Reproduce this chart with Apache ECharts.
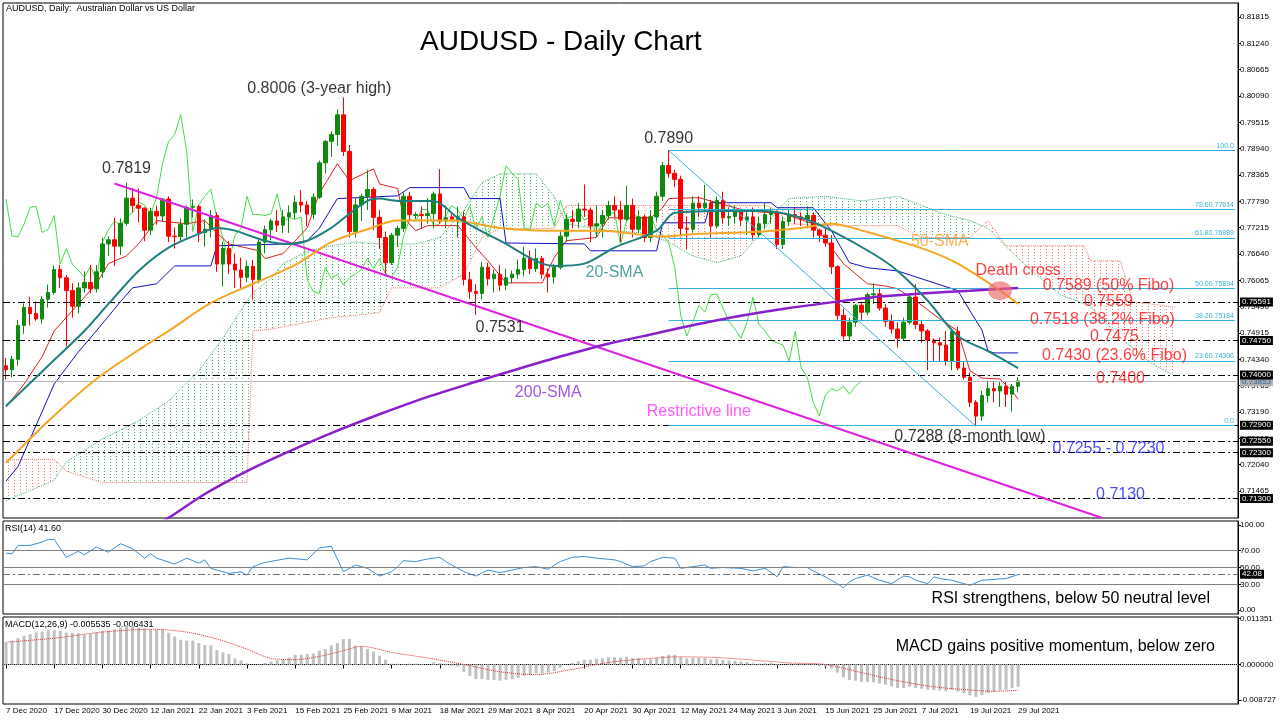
<!DOCTYPE html>
<html>
<head>
<meta charset="utf-8">
<title>AUDUSD - Daily Chart</title>
<script src="https://cdn.jsdelivr.net/npm/echarts@6.0.0/dist/echarts.min.js"></script>
<style>html,body{margin:0;padding:0;background:#fff;}#chart{width:1280px;height:720px;}</style>
</head>
<body>
<div id="chart"></div>
<script>
// ---------- categories ----------
const firstDay = '2020-12-07';
const lastDay = '2021-07-29';
const skipDays = ['2020-12-25', '2021-01-01'];
const extraDays = ['2021-03-14', '2021-03-21'];
const futureSlots = 36;
const monthNames = ['Jan','Feb','Mar','Apr','May','Jun','Jul','Aug','Sep','Oct','Nov','Dec'];

// ---------- price (open, high, low, close) ----------
const ohlc = [
[0.7420,0.7437,0.7390,0.7411],[0.7411,0.7442,0.7395,0.7434],[0.7434,0.7520,0.7420,0.7508],[0.7508,0.7556,0.7490,0.7547],
[0.7547,0.7571,0.7508,0.7534],[0.7534,0.7560,0.7518,0.7522],[0.7522,0.7572,0.7512,0.7565],[0.7565,0.7597,0.7547,0.7580],
[0.7580,0.7639,0.7575,0.7630],[0.7630,0.7640,0.7590,0.7612],[0.7612,0.7618,0.7462,0.7584],[0.7584,0.7600,0.7525,0.7550],
[0.7550,0.7602,0.7534,0.7590],[0.7590,0.7626,0.7580,0.7602],[0.7602,0.7640,0.7578,0.7588],[0.7588,0.7640,0.7580,0.7625],
[0.7625,0.7700,0.7612,0.7686],[0.7686,0.7702,0.7660,0.7695],[0.7695,0.7743,0.7638,0.7681],[0.7681,0.7742,0.7662,0.7731],
[0.7731,0.7820,0.7725,0.7786],[0.7786,0.7808,0.7755,0.7770],[0.7770,0.7807,0.7733,0.7764],[0.7764,0.7766,0.7692,0.7716],
[0.7716,0.7765,0.7705,0.7757],[0.7757,0.7770,0.7728,0.7747],[0.7747,0.7786,0.7735,0.7784],[0.7784,0.7790,0.7690,0.7703],
[0.7703,0.7722,0.7676,0.7702],[0.7702,0.7742,0.7690,0.7729],[0.7729,0.7770,0.7700,0.7766],[0.7766,0.7783,0.7744,0.7768],
[0.7768,0.7771,0.7690,0.7711],[0.7711,0.7740,0.7680,0.7718],[0.7718,0.7760,0.7700,0.7748],[0.7748,0.7755,0.7625,0.7642],
[0.7642,0.7690,0.7593,0.7676],[0.7676,0.7692,0.7620,0.7642],[0.7642,0.7665,0.7590,0.7629],[0.7629,0.7656,0.7590,0.7613],
[0.7613,0.7650,0.7602,0.7637],[0.7637,0.7651,0.7564,0.7608],[0.7608,0.7696,0.7600,0.7690],[0.7690,0.7726,0.7665,0.7717],
[0.7717,0.7741,0.7694,0.7736],[0.7736,0.7760,0.7712,0.7727],[0.7727,0.7760,0.7710,0.7745],[0.7745,0.7770,0.7710,0.7754],
[0.7754,0.7792,0.7740,0.7777],[0.7777,0.7804,0.7755,0.7771],[0.7771,0.7780,0.7725,0.7751],[0.7751,0.7796,0.7740,0.7788],
[0.7788,0.7868,0.7784,0.7863],[0.7863,0.7913,0.7840,0.7910],[0.7910,0.7932,0.7876,0.7925],[0.7925,0.7980,0.7900,0.7968],
[0.7968,0.8006,0.7878,0.7888],[0.7888,0.7902,0.7700,0.7713],[0.7713,0.7786,0.7700,0.7771],[0.7771,0.7796,0.7736,0.7790],
[0.7790,0.7848,0.7760,0.7805],[0.7805,0.7810,0.7716,0.7744],[0.7744,0.7760,0.7675,0.7700],[0.7700,0.7713,0.7622,0.7645],
[0.7645,0.7710,0.7640,0.7705],[0.7705,0.7726,0.7680,0.7720],[0.7720,0.7798,0.7712,0.7790],[0.7790,0.7800,0.7735,0.7750],
[0.7748,0.7755,0.7740,0.7750],[0.7750,0.7768,0.7720,0.7748],[0.7748,0.7786,0.7730,0.7752],[0.7752,0.7800,0.7720,0.7795],
[0.7795,0.7849,0.7730,0.7736],[0.7736,0.7770,0.7720,0.7743],[0.7745,0.7752,0.7735,0.7740],[0.7740,0.7767,0.7700,0.7745],
[0.7745,0.7757,0.7595,0.7608],[0.7608,0.7625,0.7566,0.7582],[0.7582,0.7598,0.7531,0.7578],[0.7578,0.7646,0.7565,0.7635],
[0.7635,0.7645,0.7595,0.7610],[0.7610,0.7630,0.7580,0.7620],[0.7620,0.7640,0.7583,0.7596],[0.7596,0.7632,0.7585,0.7612],
[0.7612,0.7628,0.7600,0.7620],[0.7620,0.7652,0.7610,0.7630],[0.7630,0.7680,0.7615,0.7655],[0.7655,0.7672,0.7620,0.7632],
[0.7632,0.7676,0.7625,0.7654],[0.7654,0.7660,0.7610,0.7620],[0.7620,0.7632,0.7580,0.7614],[0.7614,0.7642,0.7600,0.7635],
[0.7635,0.7715,0.7630,0.7703],[0.7703,0.7750,0.7690,0.7740],[0.7740,0.7760,0.7720,0.7735],[0.7735,0.7775,0.7720,0.7762],
[0.7762,0.7816,0.7745,0.7760],[0.7760,0.7765,0.7690,0.7725],[0.7725,0.7770,0.7700,0.7730],[0.7730,0.7760,0.7700,0.7748],
[0.7748,0.7780,0.7740,0.7770],[0.7770,0.7790,0.7745,0.7760],[0.7760,0.7780,0.7690,0.7740],[0.7740,0.7813,0.7735,0.7770],
[0.7770,0.7785,0.7700,0.7718],[0.7718,0.7760,0.7710,0.7745],[0.7745,0.7750,0.7690,0.7700],[0.7700,0.7760,0.7690,0.7745],
[0.7745,0.7800,0.7735,0.7790],[0.7790,0.7865,0.7780,0.7857],[0.7857,0.7891,0.7830,0.7840],[0.7840,0.7848,0.7810,0.7827],
[0.7827,0.7835,0.7705,0.7720],[0.7720,0.7745,0.7675,0.7718],[0.7718,0.7790,0.7710,0.7775],[0.7775,0.7790,0.7745,0.7765],
[0.7765,0.7815,0.7755,0.7775],[0.7775,0.7782,0.7700,0.7725],[0.7725,0.7790,0.7720,0.7781],[0.7781,0.7800,0.7730,0.7743],
[0.7743,0.7765,0.7725,0.7746],[0.7746,0.7770,0.7730,0.7760],[0.7760,0.7760,0.7725,0.7738],[0.7738,0.7760,0.7705,0.7745],
[0.7745,0.7765,0.7695,0.7706],[0.7706,0.7745,0.7700,0.7730],[0.7730,0.7775,0.7720,0.7750],[0.7750,0.7765,0.7730,0.7755],
[0.7755,0.7757,0.7675,0.7685],[0.7685,0.7745,0.7675,0.7735],[0.7735,0.7760,0.7725,0.7750],[0.7750,0.7765,0.7730,0.7745],
[0.7745,0.7755,0.7725,0.7740],[0.7740,0.7768,0.7720,0.7748],[0.7748,0.7755,0.7700,0.7716],[0.7716,0.7720,0.7690,0.7705],
[0.7705,0.7720,0.7680,0.7688],[0.7688,0.7705,0.7620,0.7636],[0.7636,0.7640,0.7520,0.7530],[0.7530,0.7545,0.7477,0.7485],
[0.7485,0.7525,0.7475,0.7515],[0.7515,0.7555,0.7505,0.7552],[0.7552,0.7560,0.7520,0.7537],[0.7537,0.7580,0.7530,0.7575],
[0.7575,0.7600,0.7555,0.7577],[0.7577,0.7590,0.7540,0.7546],[0.7546,0.7555,0.7505,0.7517],[0.7517,0.7532,0.7490,0.7500],
[0.7500,0.7515,0.7460,0.7480],[0.7480,0.7525,0.7475,0.7515],[0.7515,0.7575,0.7510,0.7570],[0.7570,0.7598,0.7500,0.7510],
[0.7510,0.7520,0.7470,0.7496],[0.7496,0.7500,0.7410,0.7476],[0.7476,0.7480,0.7430,0.7470],[0.7470,0.7482,0.7430,0.7465],
[0.7465,0.7495,0.7420,0.7430],[0.7430,0.7500,0.7410,0.7495],[0.7495,0.7505,0.7410,0.7415],[0.7415,0.7430,0.7390,0.7395],
[0.7395,0.7405,0.7330,0.7340],[0.7340,0.7345,0.7288,0.7310],[0.7310,0.7365,0.7300,0.7355],[0.7355,0.7388,0.7340,0.7370],
[0.7370,0.7385,0.7340,0.7365],[0.7365,0.7385,0.7330,0.7375],[0.7375,0.7385,0.7330,0.7358],[0.7358,0.7380,0.7320,0.7375],
[0.7375,0.7395,0.7362,0.7387]
];
const lastPrice = 0.73853;

// ---------- moving averages [bar index, value] ----------
const sma20 = [[0,0.7332],[7,0.7420],[13,0.7496],[17,0.7555],[22,0.7627],[27,0.7678],[32,0.7708],[35,0.7721],[38,0.7715],[43,0.7693],[47,0.7686],[50,0.7693],[54,0.7721],[57,0.7752],[60,0.7780],[62,0.7785],[65,0.7780],[71,0.7780],[75,0.7743],[82,0.7693],[91,0.7638],[96,0.7643],[101,0.7678],[108,0.7715],[111,0.7754],[120,0.7758],[126,0.7758],[132,0.7743],[137,0.7715],[144,0.7664],[148,0.7627],[153,0.7562],[158,0.7485],[163,0.7452],[168,0.7415]];
const sma50 = [[0,0.7208],[7,0.7299],[15,0.7391],[23,0.7463],[27,0.7496],[34,0.7557],[41,0.7599],[48,0.7640],[54,0.7690],[60,0.7718],[65,0.7737],[74,0.7737],[82,0.7721],[90,0.7715],[99,0.7715],[109,0.7702],[115,0.7708],[124,0.7712],[132,0.7721],[137,0.7730],[143,0.7712],[148,0.7693],[153,0.7672],[158,0.7643],[165,0.7584],[168,0.7555]];
const sma200 = [[22,0.7050],[27,0.7088],[33,0.7140],[40,0.7190],[47,0.7233],[54,0.7273],[62,0.7314],[70,0.7352],[78,0.7385],[85,0.7413],[92,0.7440],[100,0.7468],[108,0.7491],[115,0.7511],[122,0.7529],[130,0.7546],[138,0.7560],[145,0.7571],[152,0.7578],[160,0.7584],[168,0.7590]];

// ---------- Ichimoku lines ----------
const tenkan = [[0,0.7330],[3,0.7380],[6,0.7440],[8,0.7496],[11,0.7540],[15,0.7599],[17,0.7643],[20,0.7660],[22,0.7686],[25,0.7737],[30,0.7730],[33,0.7737],[35,0.7710],[37,0.7686],[42,0.7671],[43,0.7654],[46,0.7665],[50,0.7721],[52,0.7796],[55,0.7861],[57,0.7824],[61,0.7850],[62,0.7817],[65,0.7807],[66,0.7743],[68,0.7715],[70,0.7726],[75,0.7726],[78,0.7678],[80,0.7649],[83,0.7601],[89,0.7601],[91,0.7656],[93,0.7693],[98,0.7700],[100,0.7743],[107,0.7743],[109,0.7765],[110,0.7785],[115,0.7787],[118,0.7776],[123,0.7758],[129,0.7752],[134,0.7730],[137,0.7678],[139,0.7643],[143,0.7599],[146,0.7594],[148,0.7588],[151,0.7562],[155,0.7522],[158,0.7496],[160,0.7409],[162,0.7393],[165,0.7391],[167,0.7365],[168,0.7347]];
const kijun = [[0,0.7168],[2,0.7200],[5,0.7290],[8,0.7380],[12,0.7450],[15,0.7496],[19,0.7560],[21,0.7590],[25,0.7599],[28,0.7638],[34,0.7638],[35,0.7682],[47,0.7686],[50,0.7693],[52,0.7720],[55,0.7785],[65,0.7791],[67,0.7809],[76,0.7809],[77,0.7785],[82,0.7785],[83,0.7688],[96,0.7686],[97,0.7671],[108,0.7671],[109,0.7732],[116,0.7732],[117,0.7776],[127,0.7776],[128,0.7765],[134,0.7765],[137,0.7715],[140,0.7645],[143,0.7634],[148,0.7627],[158,0.7584],[160,0.7540],[162,0.7498],[163,0.7452],[164,0.7448],[168,0.7448]];
const cloudIdx = [0,8,10,16,22,27,32,36,40,41,44,46,50,54,58,62,64,68,72,76,79,82,88,91,93,100,106,110,114,118,122,126,128,130,136,142,148,152,156,160,163,166,170,175,179,180,185,187,190,194];
const spanA    = [0.7125,0.7170,0.7210,0.7260,0.7300,0.7343,0.7409,0.7480,0.7562,0.7580,0.7610,0.7643,0.7670,0.7682,0.7690,0.7686,0.7686,0.7686,0.7700,0.7760,0.7820,0.7839,0.7839,0.7790,0.7730,0.7715,0.7710,0.7690,0.7660,0.7645,0.7660,0.7720,0.7760,0.7785,0.7790,0.7780,0.7790,0.7770,0.7750,0.7737,0.7720,0.7680,0.7630,0.7575,0.7555,0.7550,0.7480,0.7459,0.7426,0.7398];
const spanB    = [0.7215,0.7215,0.7190,0.7165,0.7165,0.7165,0.7165,0.7165,0.7165,0.7496,0.7500,0.7505,0.7515,0.7525,0.7530,0.7536,0.7590,0.7590,0.7590,0.7620,0.7700,0.7720,0.7720,0.7720,0.7770,0.7770,0.7770,0.7770,0.7770,0.7770,0.7770,0.7770,0.7760,0.7730,0.7726,0.7726,0.7726,0.7700,0.7700,0.7700,0.7737,0.7682,0.7682,0.7682,0.7682,0.7649,0.7649,0.7560,0.7555,0.7548];
const chikouShift = 26;

// ---------- levels ----------
const priceTicks = [0.71465,0.72040,0.72615,0.73190,0.73765,0.74340,0.74915,0.75490,0.76065,0.76640,0.77215,0.77790,0.78365,0.78940,0.79515,0.80090,0.80665,0.81240,0.81815];
const hLevels = [0.75591,0.74750,0.74000,0.72900,0.72550,0.72300,0.71300];
const fiboValues = [0.78900,0.77614,0.76989,0.75894,0.75184,0.74306,0.72900];
const fiboLabels = ['100.0','78.60.77614','61.80.76989','50.00.75894','38.20.75184','23.60.74306','0.0'];
const fiboStartBar = 110;
const trendFrom = [110, 0.7890], trendTo = [161, 0.7288];
const restrictFrom = [18, 0.7818], restrictTo = [182, 0.70875];
const deathCross = [165, 0.7584];

// ---------- annotations ----------
const annTexts = ['0.8006 (3-year high)','0.7819','0.7890','0.7531','20-SMA','50-SMA','200-SMA','Restrictive line','Death cross','0.7589 (50% Fibo)','0.7559','0.7518 (38.2% Fibo)','0.7475','0.7430 (23.6% Fibo)','0.7400','0.7288 (8-month low)','0.7255 - 0.7230','0.7130'];
const annBars  = [52,20,110,82,101,155,90,115,168,183,183,182,184,184,185,160,183,185];
const annPrice = [0.80252,0.78503,0.79159,0.75027,0.76229,0.76907,0.73606,0.73191,0.76273,0.75945,0.75595,0.75202,0.74830,0.74415,0.73912,0.72644,0.72382,0.71376];
const annColor = ['#000','#000','#000','#000','#2a8a8a','#f0a030','#8a2be2','#ff33ff','#ff1010','#ff1010','#ff1010','#ff1010','#ff1010','#ff1010','#ff1010','#000','#1a1aff','#1a1aff'];

// ---------- RSI ----------
const rsi = [[0,67],[1,66],[2,76],[4,76],[6,80],[7,83],[8,83],[10,62],[12,69],[13,65],[15,74],[17,68],[19,78],[21,72],[23,61],[24,66],[25,61],[28,54],[30,61],[32,55],[33,59],[34,49],[37,43],[39,45],[40,41],[41,51],[43,56],[47,61],[50,59],[52,73],[54,75],[56,45],[58,53],[60,49],[62,40],[64,45],[65,51],[66,58],[68,57],[70,60],[72,62],[73,57],[76,45],[78,40],[80,47],[82,44],[84,47],[86,50],[88,51],[90,48],[92,57],[94,62],[96,63],[98,61],[101,59],[102,57],[104,51],[106,52],[107,57],[109,62],[111,61],[112,49],[114,51],[116,53],[117,49],[119,50],[122,49],[124,46],[126,49],[128,39],[129,51],[131,50],[133,50],[134,46],[136,39],[138,31],[139,26],[140,33],[141,37],[143,41],[145,35],[147,31],[149,40],[150,39],[151,35],[153,31],[154,39],[155,37],[157,35],[159,31],[160,29],[162,35],[164,36],[166,37],[168,41.6]];
const rsiLevels = [70,50,30];
const rsiMark = 42.08;

// ---------- MACD ----------
const macdHist = [
0.0055,0.0059,0.0065,0.0071,0.0075,0.0079,0.0081,0.0085,0.0085,0.0083,0.0079,0.0078,0.0077,0.0073,0.0075,0.0079,0.0083,0.0084,0.0087,0.0091,
0.0097,0.0097,0.0091,0.0089,0.0087,0.0087,0.0086,0.0078,0.0069,0.0061,0.0059,0.0059,0.0053,0.0048,0.0047,0.0036,0.0030,0.0026,0.0015,0.0010,
0.0003,0.0000,0.0001,0.0004,0.0007,0.0010,0.0013,0.0017,0.0024,0.0024,0.0026,0.0027,0.0034,0.0038,0.0047,0.0053,0.0063,0.0063,0.0047,0.0045,
0.0038,0.0032,0.0022,0.0012,0.0002,0.0002,0.0001,0.0002,0.0002,0.0001,0.0000,0.0005,0.0003,-0.0002,-0.0003,-0.0005,-0.0018,-0.0028,-0.0036,-0.0036,
-0.0038,-0.0038,-0.0040,-0.0038,-0.0036,-0.0033,-0.0028,-0.0026,-0.0022,-0.0022,-0.0020,-0.0016,-0.0008,0.0000,0.0004,0.0008,0.0012,0.0012,0.0014,0.0015,
0.0018,0.0018,0.0017,0.0019,0.0016,0.0016,0.0012,0.0013,0.0016,0.0021,0.0024,0.0024,0.0018,0.0015,0.0016,0.0016,0.0016,0.0013,0.0014,0.0011,
0.0010,0.0009,0.0007,0.0006,0.0003,0.0002,0.0003,0.0004,-0.0002,0.0000,0.0002,0.0002,0.0002,0.0002,-0.0001,-0.0003,-0.0005,-0.0010,-0.0020,-0.0032,
-0.0038,-0.0040,-0.0043,-0.0043,-0.0044,-0.0047,-0.0050,-0.0054,-0.0058,-0.0058,-0.0055,-0.0058,-0.0060,-0.0062,-0.0063,-0.0064,-0.0066,-0.0063,-0.0067,-0.0071,
-0.0076,-0.0080,-0.0076,-0.0071,-0.0068,-0.0064,-0.0062,-0.0058,-0.0055
];
const macdSignal = [[0,0.0055],[8,0.0065],[16,0.0080],[24,0.0087],[30,0.0080],[35,0.0063],[40,0.0038],[44,0.0015],[48,0.0012],[52,0.0020],[56,0.0034],[59,0.0045],[64,0.0030],[70,0.0016],[76,0.0000],[82,-0.0018],[88,-0.0025],[94,-0.0012],[100,0.0005],[106,0.0014],[112,0.0019],[118,0.0017],[124,0.0011],[130,0.0004],[136,0.0000],[142,-0.0020],[148,-0.0040],[154,-0.0055],[160,-0.0063],[164,-0.0066],[168,-0.0064]];
const macdTicks = [-0.008727, 0, 0.011351];

// ================= build =================
function buildDates() {
  const out = [];
  let t = Date.parse(firstDay + 'T00:00:00Z');
  const end = Date.parse(lastDay + 'T00:00:00Z');
  while (t <= end) {
    const d = new Date(t);
    const iso = d.toISOString().slice(0, 10);
    const wd = d.getUTCDay();
    if ((wd >= 1 && wd <= 5 && skipDays.indexOf(iso) < 0) || extraDays.indexOf(iso) >= 0) {
      out.push(d.getUTCDate() + ' ' + monthNames[d.getUTCMonth()] + ' ' + d.getUTCFullYear());
    }
    t += 86400000;
  }
  return out;
}
const dates = buildDates();
const nBars = dates.length;
const categories = dates.concat(Array.from({length: futureSlots}, (_, i) => 'f' + i));
const lastSlot = categories.length - 1;

function dotPattern(color) {
  const c = document.createElement('canvas');
  c.width = 6; c.height = 3;
  const g = c.getContext('2d');
  g.fillStyle = color;
  g.fillRect(2, 0, 1, 1);
  return {image: c, repeat: 'repeat'};
}
const greenFill = dotPattern('#3cb371');
const redFill = dotPattern('#f07a6a');

const cloudSegs = [];
for (let i = 0; i < cloudIdx.length - 1; i++) {
  cloudSegs.push([cloudIdx[i], spanA[i], spanB[i], cloudIdx[i + 1], spanA[i + 1], spanB[i + 1]]);
}

const closes = ohlc.map(r => r[3]);
const chikou = closes.slice(chikouShift).map((c, i) => [i, c]);

const FONT = 'Liberation Sans';
const showIdx = (i) => i % 8 === 0 && i < nBars;
const boxLabel = (txt, bg, fg) => ({show: true, position: 'end', distance: 2, formatter: txt, color: fg || '#fff',
  backgroundColor: bg || '#000', fontSize: 8, fontFamily: FONT, padding: [1, 2, 0, 2]});

const chart = echarts.init(document.getElementById('chart'), null, {renderer: 'canvas'});

const gridBase = {left: 3, width: 1235, show: true, borderColor: '#000', borderWidth: 1, backgroundColor: 'transparent'};

const option = {
  animation: false,
  backgroundColor: '#fff',
  grid: [
    Object.assign({top: 3, height: 515}, gridBase),
    Object.assign({top: 521, height: 93}, gridBase),
    Object.assign({top: 617, height: 87}, gridBase)
  ],
  xAxis: [0, 1, 2].map(g => ({
    type: 'category', gridIndex: g, data: categories, boundaryGap: true,
    axisLine: {show: g === 2, lineStyle: {color: '#000'}},
    axisTick: {show: g === 2, interval: showIdx, alignWithLabel: true, length: 4, lineStyle: {color: '#000'}},
    axisLabel: {show: g === 2, interval: showIdx, align: 'left', fontSize: 8, fontFamily: FONT, color: '#000', margin: 3},
    splitLine: {show: false}
  })),
  yAxis: [
    {type: 'value', gridIndex: 0, position: 'right', min: 0.70875, max: 0.82121, scale: true,
      axisLine: {show: true, lineStyle: {color: '#000'}},
      axisTick: {show: true, customValues: priceTicks, length: 3, lineStyle: {color: '#000'}},
      axisLabel: {customValues: priceTicks, formatter: v => v.toFixed(5), fontSize: 8, fontFamily: FONT, color: '#000', margin: 2},
      splitLine: {show: false}},
    {type: 'value', gridIndex: 1, position: 'right', min: -4.7, max: 104.7,
      axisLine: {show: true, lineStyle: {color: '#000'}},
      axisTick: {show: true, customValues: [0, 30, 50, 70, 100], length: 3, lineStyle: {color: '#000'}},
      axisLabel: {customValues: [0, 30, 50, 70, 100], formatter: v => v.toFixed(2), fontSize: 8, fontFamily: FONT, color: '#000', margin: 2},
      splitLine: {show: false}},
    {type: 'value', gridIndex: 2, position: 'right', min: -0.009753, max: 0.011728,
      axisLine: {show: true, lineStyle: {color: '#000'}},
      axisTick: {show: true, customValues: macdTicks, length: 3, lineStyle: {color: '#000'}},
      axisLabel: {customValues: macdTicks, formatter: v => v.toFixed(6), fontSize: 8, fontFamily: FONT, color: '#000', margin: 2},
      splitLine: {show: false}}
  ],
  graphic: [
    {type: 'text', left: 6, top: 4, style: {text: 'AUDUSD, Daily:  Australian Dollar vs US Dollar', font: '9px "Liberation Sans"', fill: '#000'}},
    {type: 'text', left: 420, top: 28, style: {text: 'AUDUSD - Daily Chart', font: '28px "Liberation Sans"', fill: '#000'}},
    {type: 'text', left: 5, top: 524, style: {text: 'RSI(14) 41.60', font: '9px "Liberation Sans"', fill: '#000'}},
    {type: 'text', left: 5, top: 620, style: {text: 'MACD(12,26,9) -0.005535 -0.006431', font: '9px "Liberation Sans"', fill: '#000'}},
    {type: 'text', x: 1210, y: 591, style: {text: 'RSI strengthens, below 50 neutral level', font: '16px "Liberation Sans"', fill: '#000', textAlign: 'right'}},
    {type: 'text', x: 1215, y: 639, style: {text: 'MACD gains positive momentum, below zero', font: '16px "Liberation Sans"', fill: '#000', textAlign: 'right'}}
  ],
  series: [
    {
      type: 'custom', name: 'cloud', xAxisIndex: 0, yAxisIndex: 0, z: 1, silent: true, clip: true,
      data: cloudSegs,
      encode: {x: [0, 3], y: [1, 2, 4, 5]},
      renderItem: function (params, api) {
        const pA0 = api.coord([api.value(0), api.value(1)]);
        const pB0 = api.coord([api.value(0), api.value(2)]);
        const pA1 = api.coord([api.value(3), api.value(4)]);
        const pB1 = api.coord([api.value(3), api.value(5)]);
        const d0 = api.value(1) - api.value(2);
        const d1 = api.value(4) - api.value(5);
        const polys = [];
        if (d0 * d1 >= 0) {
          polys.push({pts: [pA0, pA1, pB1, pB0], up: (d0 + d1) >= 0});
        } else {
          const t = d0 / (d0 - d1);
          const pc = [pA0[0] + t * (pA1[0] - pA0[0]), pA0[1] + t * (pA1[1] - pA0[1])];
          polys.push({pts: [pA0, pc, pB0], up: d0 > 0});
          polys.push({pts: [pc, pA1, pB1], up: d1 > 0});
        }
        return {type: 'group', children: polys.map(p => ({
          type: 'polygon', shape: {points: p.pts}, style: {fill: p.up ? greenFill : redFill, stroke: null}
        }))};
      }
    },
    {type: 'line', name: 'spanA', xAxisIndex: 0, yAxisIndex: 0, data: cloudIdx.map((x, i) => [x, spanA[i]]), symbol: 'none', z: 2,
      lineStyle: {color: '#3cb371', width: 1, type: 'dotted'}},
    {type: 'line', name: 'spanB', xAxisIndex: 0, yAxisIndex: 0, data: cloudIdx.map((x, i) => [x, spanB[i]]), symbol: 'none', z: 2,
      lineStyle: {color: '#f07a6a', width: 1, type: 'dotted'}},
    {type: 'line', name: 'chikou', xAxisIndex: 0, yAxisIndex: 0, data: chikou, symbol: 'none', z: 3,
      lineStyle: {color: '#44dd44', width: 1}},
    {type: 'line', name: 'tenkan', xAxisIndex: 0, yAxisIndex: 0, data: tenkan, symbol: 'none', z: 3,
      lineStyle: {color: '#e02020', width: 1}},
    {type: 'line', name: 'kijun', xAxisIndex: 0, yAxisIndex: 0, data: kijun, symbol: 'none', z: 3,
      lineStyle: {color: '#1010c0', width: 1}},
    {
      type: 'candlestick', name: 'AUDUSD', xAxisIndex: 0, yAxisIndex: 0, z: 4, barWidth: 4,
      data: ohlc.map(r => [r[0], r[3], r[2], r[1]]),
      itemStyle: {color: '#0f8a0f', color0: '#ff0000', borderColor: '#0f8a0f', borderColor0: '#ff0000', borderWidth: 1},
      markLine: {
        symbol: ['none', 'none'], silent: true, precision: 5,
        lineStyle: {color: '#000', width: 1, type: [7, 3, 2, 3]},
        data: [{yAxis: lastPrice, lineStyle: {color: '#b8b8b8', type: 'solid'}, label: boxLabel(lastPrice.toFixed(5), '#b0b0b0', '#3060a0')}]
          .concat(hLevels.map(v => ({yAxis: v, label: boxLabel(v.toFixed(5))})))
      }
    },
    {type: 'line', name: '200-SMA', xAxisIndex: 0, yAxisIndex: 0, data: sma200, symbol: 'none', smooth: 0.3, z: 5,
      lineStyle: {color: '#8a1ecc', width: 2.5}},
    {type: 'line', name: '50-SMA', xAxisIndex: 0, yAxisIndex: 0, data: sma50, symbol: 'none', smooth: 0.3, z: 5,
      lineStyle: {color: '#f5a623', width: 2}},
    {type: 'line', name: '20-SMA', xAxisIndex: 0, yAxisIndex: 0, data: sma20, symbol: 'none', smooth: 0.3, z: 5,
      lineStyle: {color: '#1f7f7f', width: 2}},
    {
      type: 'line', name: 'fibo', xAxisIndex: 0, yAxisIndex: 0, data: [], z: 3,
      markLine: {
        symbol: ['none', 'none'], silent: true, precision: 5,
        lineStyle: {color: '#35b1d9', width: 1, type: 'solid'},
        label: {show: true, position: 'insideEndTop', distance: 1, color: '#35b1d9', fontSize: 7, fontFamily: FONT},
        data: fiboValues.map((v, i) => [
          {coord: [fiboStartBar, v], label: {formatter: fiboLabels[i]}},
          {coord: [lastSlot, v]}
        ]).concat([[{coord: trendFrom, label: {show: false}}, {coord: trendTo}]])
      }
    },
    {
      type: 'line', name: 'restrictive', xAxisIndex: 0, yAxisIndex: 0, data: [], z: 6,
      markLine: {
        symbol: ['none', 'none'], silent: true, precision: 5,
        lineStyle: {color: '#e022e0', width: 2, type: 'solid'},
        label: {show: false},
        data: [[{coord: restrictFrom}, {coord: restrictTo}]]
      }
    },
    {type: 'scatter', name: 'deathcross', xAxisIndex: 0, yAxisIndex: 0, z: 7, data: [deathCross],
      symbol: 'circle', symbolSize: [24, 19], itemStyle: {color: 'rgba(236,104,104,0.8)'}},
    {
      type: 'scatter', name: 'notes', xAxisIndex: 0, yAxisIndex: 0, z: 8, symbolSize: 0, silent: true,
      data: annTexts.map((t, i) => ({
        value: [annBars[i], annPrice[i]],
        label: {show: true, position: 'inside', formatter: t, color: annColor[i], fontSize: 16, fontFamily: FONT}
      }))
    },
    {
      type: 'line', name: 'RSI', xAxisIndex: 1, yAxisIndex: 1, data: rsi, symbol: 'none', z: 4,
      lineStyle: {color: '#3a8fd8', width: 1},
      markLine: {
        symbol: ['none', 'none'], silent: true, precision: 2,
        lineStyle: {color: '#808080', width: 1, type: 'solid'},
        label: {show: false},
        data: rsiLevels.map(v => ({yAxis: v})).concat([{
          yAxis: rsiMark, lineStyle: {color: '#707070', type: [7, 3, 2, 3]}, label: boxLabel(rsiMark.toFixed(2))
        }])
      }
    },
    {
      type: 'bar', name: 'MACD', xAxisIndex: 2, yAxisIndex: 2, data: macdHist, barWidth: 3, z: 3,
      itemStyle: {color: '#c0c0c0'},
      markLine: {
        symbol: ['none', 'none'], silent: true, precision: 6,
        lineStyle: {color: '#b0b0b0', width: 1, type: 'dotted'},
        label: {show: false},
        data: [{yAxis: 0}]
      }
    },
    {type: 'line', name: 'Signal', xAxisIndex: 2, yAxisIndex: 2, data: macdSignal, symbol: 'none', smooth: 0.3, z: 4,
      lineStyle: {color: '#e02a2a', width: 1, type: 'dotted'}}
  ]
};
chart.setOption(option);
</script>
</body>
</html>
